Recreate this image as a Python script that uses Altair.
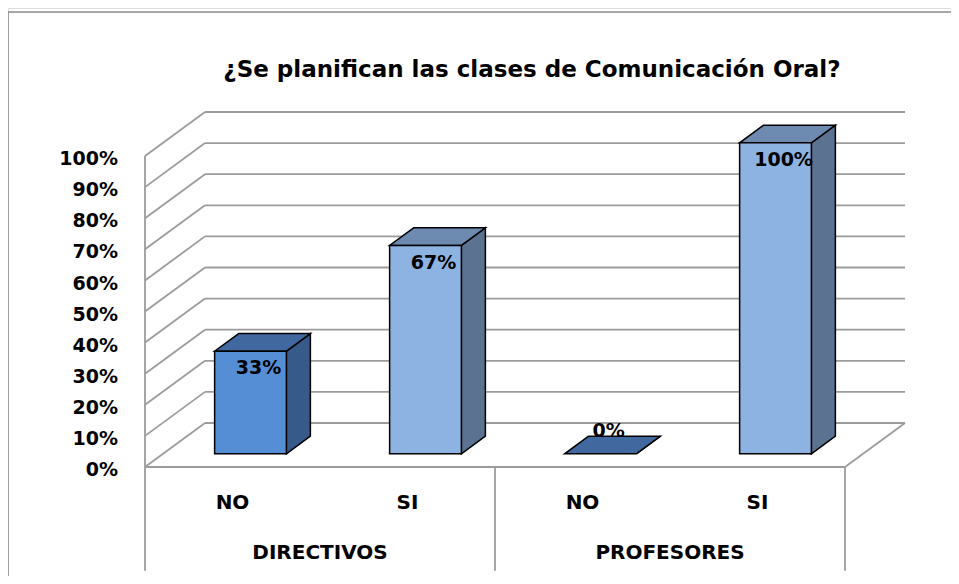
import altair as alt
import pandas as pd

# ---- data ----
groups = ["DIRECTIVOS", "DIRECTIVOS", "PROFESORES", "PROFESORES"]
answers = ["NO", "SI", "NO", "SI"]
values = [33, 67, 0, 100]
y_ticks = [0, 10, 20, 30, 40, 50, 60, 70, 80, 90, 100]
group_names = ["DIRECTIVOS", "PROFESORES"]
title_text = "¿Se planifican las clases de Comunicación Oral?"

# ---- geometry of the pseudo-3D drawing (slot units on x, percent on y) ----
N = len(values)
DX, DY = 0.342857, 14.15      # full depth shift of the back wall
DF, DB = 0.30, 0.70           # bar front / back depth fraction
BW = 0.41                     # bar width in slots
W, H = 943, 568
XD = [-0.782857, 4.605714]
YD = [-35.05, 147.59]
FONT = "DejaVu Sans"
GRID = "#9c9c9c"

xs = alt.Scale(domain=XD, nice=False, zero=False)
ys = alt.Scale(domain=YD, nice=False, zero=False)

def X(f="x"):
    return alt.X(f"{f}:Q", scale=xs, axis=None)

def Y(f="y"):
    return alt.Y(f"{f}:Q", scale=ys, axis=None)

# ---- walls, floor, gridlines ----
segs = []
for t in y_ticks:
    segs.append(dict(x=DX, y=t + DY, x2=N + DX, y2=t + DY))      # back wall
    segs.append(dict(x=0, y=t, x2=DX, y2=t + DY))                # side wall
segs.append(dict(x=0, y=0, x2=0, y2=y_ticks[-1]))                 # left front edge
segs.append(dict(x=0, y=0, x2=N, y2=0))                           # floor front edge
segs.append(dict(x=N, y=0, x2=N + DX, y2=DY))                     # floor right edge
for gx in [0, 2, 4]:
    segs.append(dict(x=gx, y=0, x2=gx, y2=-33.4))                 # category dividers
seg_df = pd.DataFrame(segs)
grid = alt.Chart(seg_df).mark_rule(stroke=GRID, strokeWidth=1.8).encode(
    x=X(), y=Y(), x2="x2:Q", y2="y2:Q")

# ---- bars ----
FRONT = {"NO": "#558ED5", "SI": "#8DB3E2"}
SIDE = {"NO": "#365B8A", "SI": "#5B7391"}
TOP = {"NO": "#4169A0", "SI": "#6D8AB0"}

front_rows, side_rows, top_rows, lab_rows = [], [], [], []
for i, (g, a, v) in enumerate(zip(groups, answers, values)):
    c = i + 0.5
    key = f"b{i}"
    front_rows.append(dict(k=key, f=FRONT[a], x=c - BW / 2 + DF * DX, x2=c + BW / 2 + DF * DX,
                           y=DF * DY, y2=v + DF * DY))
    for d in (DF, DB):
        side_rows.append(dict(k=key, f=SIDE[a], x=c + BW / 2 + d * DX, y=d * DY, y2=v + d * DY))
        top_rows.append(dict(k=key, f=TOP[a], y=v + d * DY, x=c - BW / 2 + d * DX, x2=c + BW / 2 + d * DX))
    ly = v + DF * DY - 5.5 if v > 0 else v + DB * DY + 1.8
    lab_rows.append(dict(x=c + DF * DX + 0.046, y=ly, t=f"{v}%"))

front_df = pd.DataFrame(front_rows)
side_df = pd.DataFrame(side_rows)
top_df = pd.DataFrame(top_rows)
lab_df = pd.DataFrame(lab_rows)

fill = alt.Color("f:N", scale=None, legend=None)

side = alt.Chart(side_df).mark_area(stroke="black", strokeWidth=1.5, opacity=1).encode(
    x=X(), y=Y(), y2="y2:Q", detail="k:N", color=fill)
top = alt.Chart(top_df).mark_area(orient="horizontal", stroke="black", strokeWidth=1.5, opacity=1).encode(
    y=Y(), x=X(), x2="x2:Q", detail="k:N", color=fill)
front = alt.Chart(front_df[front_df["y2"] > front_df["y"]]).mark_rect(stroke="black", strokeWidth=1.5).encode(
    x=X(), x2="x2:Q", y=Y(), y2="y2:Q", color=fill)

labels = alt.Chart(lab_df).mark_text(font=FONT, fontSize=19, fontWeight="bold",
                                     baseline="middle", align="center", color="black").encode(
    x=X(), y=Y(), text="t:N")

# ---- y tick labels ----
tick_df = pd.DataFrame(dict(x=[-0.154] * len(y_ticks), y=[t - 1 for t in y_ticks],
                            t=[f"{t}%" for t in y_ticks]))
ytext = alt.Chart(tick_df).mark_text(font=FONT, fontSize=19, fontWeight="bold",
                                     align="right", baseline="middle", color="black").encode(
    x=X(), y=Y(), text="t:N")

# ---- category labels ----
cat_df = pd.DataFrame(dict(x=[i + 0.5 for i in range(N)], y=[-11.6] * N, t=answers))
grp_df = pd.DataFrame(dict(x=[1, 3], y=[-27.65] * 2, t=group_names))
cats = alt.Chart(pd.concat([cat_df, grp_df])).mark_text(
    font=FONT, fontSize=20, fontWeight="bold", align="center", baseline="middle", color="black").encode(
    x=X(), y=Y(), text="t:N")

# ---- title ----
ttl_df = pd.DataFrame(dict(x=[2.211], y=[127.65], t=[title_text]))
ttl = alt.Chart(ttl_df).mark_text(font=FONT, fontSize=23, fontWeight="bold",
                                  align="center", baseline="middle", color="black").encode(
    x=X(), y=Y(), text="t:N")

# ---- outer chart frame (top and left edges visible in the reference) ----
frame_top = alt.Chart(pd.DataFrame({"k": [0]})).mark_rule(stroke="#8a8a8a", strokeWidth=1.5).encode(
    x=alt.value(0), x2=alt.value(W), y=alt.value(4))
frame_left = alt.Chart(pd.DataFrame({"k": [0]})).mark_rule(stroke="#8a8a8a", strokeWidth=1.5).encode(
    x=alt.value(0), y=alt.value(4), y2=alt.value(H))

chart = alt.layer(frame_top, frame_left, grid, side, top, front, labels, ytext, cats, ttl).properties(
    width=W, height=H, padding=0, autosize=alt.AutoSizeParams(type="none")
).configure_view(stroke=None).configure(background="white")

chart.save("out.html", embed_options={"renderer": "svg", "actions": False})
